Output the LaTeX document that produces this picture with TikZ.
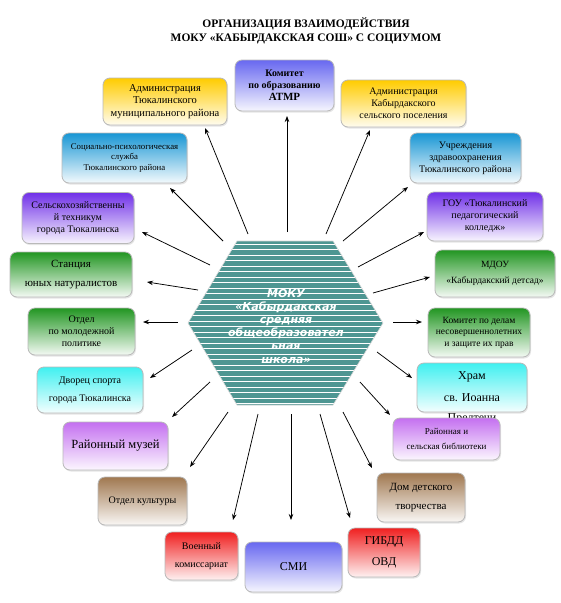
\documentclass[tikz,border=0pt]{standalone}
\usepackage{fontspec}
\setmainfont{Liberation Serif}
\newfontfamily\hexfont{DejaVu Sans}
\usetikzlibrary{arrows.meta,shadows}

\definecolor{hexteal}{RGB}{78,150,146}
\definecolor{cyel}{RGB}{255,204,0}
\definecolor{clav}{RGB}{104,104,240}
\definecolor{cblu}{RGB}{24,150,212}
\definecolor{cpur}{RGB}{112,48,232}
\definecolor{cgrn}{RGB}{34,150,34}
\definecolor{ccya}{RGB}{64,240,240}
\definecolor{cvio}{RGB}{196,112,240}
\definecolor{cbrn}{RGB}{160,120,80}
\definecolor{cred}{RGB}{240,32,32}

\newcommand\fs[1]{\fontsize{#1}{1.2\dimexpr#1pt\relax}\selectfont}

\begin{document}
\begin{tikzpicture}[
        x=1pt, y=-1pt,
        box/.style={draw=gray!55, line width=0.8pt, rounded corners=7pt,
            align=center, inner sep=1pt,
            drop shadow={opacity=0.2, shadow xshift=1pt, shadow yshift=-1.5pt}},
        yel/.style={box, top color=cyel, bottom color=cyel!6},
        lav/.style={box, top color=clav, bottom color=clav!6},
        blu/.style={box, top color=cblu, bottom color=cblu!5},
        pur/.style={box, top color=cpur, bottom color=cpur!5},
        grn/.style={box, top color=cgrn, bottom color=cgrn!5},
        cya/.style={box, top color=ccya, bottom color=ccya!6},
        vio/.style={box, top color=cvio, bottom color=cvio!6},
        brn/.style={box, top color=cbrn, bottom color=cbrn!6},
        rdd/.style={box, top color=cred, bottom color=cred!6},
        arr/.style={line width=0.75pt, -{Stealth[length=6pt,width=4.5pt]}}
    ]
    \fill[white] (0,0) rectangle (561,603);
    \useasboundingbox (0,0) rectangle (561,603);

    \node[font=\bfseries\fs{11.5}, align=center] (title) at (306,31)
        {ОРГАНИЗАЦИЯ ВЗАИМОДЕЙСТВИЯ\\МОКУ «КАБЫРДАКСКАЯ СОШ» С СОЦИУМОМ};

    % hexagon
    \coordinate (h1) at (237,241);
    \coordinate (h2) at (333,241);
    \coordinate (h3) at (383,323);
    \coordinate (h4) at (333,405);
    \coordinate (h5) at (237,405);
    \coordinate (h6) at (188,323);
    \fill[hexteal] (h1) -- (h2) -- (h3) -- (h4) -- (h5) -- (h6) -- cycle;
    \begin{scope}
        \clip (h1) -- (h2) -- (h3) -- (h4) -- (h5) -- (h6) -- cycle;
        \foreach \yy in {244,249.5,...,405}
            \draw[white, line width=0.8pt] (180,\yy) -- (390,\yy);
    \end{scope}
    \draw[gray!30, line width=0.6pt] (h1) -- (h2) -- (h3) -- (h4) -- (h5) -- (h6) -- cycle;
    \node[font=\hexfont\bfseries\itshape\fs{11}, text=white, align=center] (moku) at (286,326)
        {МОКУ\\«Кабырдакская\\средняя\\общеобразовател\\ьная\\школа»};

    % partners
    \node[lav, minimum width=99, minimum height=51, font=\bfseries\fs{10}] (kom) at (284.5,85.5)
        {Комитет\\по образованию\\{\fs{11}АТМР}};
    \node[yel, minimum width=124, minimum height=47, font=\fs{10.5}] (adml) at (165,101.5)
        {Администрация\\Тюкалинского\\муниципального района};
    \node[yel, minimum width=125, minimum height=47, font=\fs{10}] (admr) at (403.5,103.5)
        {Администрация\\Кабырдакского\\сельского поселения};
    \node[blu, minimum width=125, minimum height=50, font=\fs{8.8}] (socp) at (124.5,158)
        {Социально-психологическая\\служба\\Тюкалинского района};
    \node[blu, minimum width=111, minimum height=50, font=\fs{10}] (zdrav) at (465.5,158)
        {Учреждения\\здравоохранения\\Тюкалинского района};
    \node[pur, minimum width=112, minimum height=51, font=\fs{10}] (selh) at (78,218)
        {Сельскохозяйственны\\й техникум\\города Тюкалинска};
    \node[pur, minimum width=116, minimum height=49, font=\fs{10}] (gou) at (485,216.5)
        {ГОУ «Тюкалинский\\педагогический\\колледж»};
    \node[grn, minimum width=122, minimum height=45, font=\fs{11}] (stan) at (71,274.5)
        {Станция\\[5pt]юных натуралистов};
    \node[grn, minimum width=120, minimum height=47, font=\fs{9.5}] (mdou) at (495,273.5)
        {МДОУ\\[4pt]«Кабырдакский детсад»};
    \node[grn, minimum width=107, minimum height=47, font=\fs{10}] (molod) at (81.5,331.5)
        {Отдел\\по молодежной\\политике};
    \node[grn, minimum width=102, minimum height=49, font=\fs{9.5}] (komd) at (479,332.5)
        {Комитет по делам\\несовершеннолетних\\и защите их прав};
    \node[cya, minimum width=106, minimum height=46, font=\fs{10}] (dvor) at (90,390)
        {Дворец спорта\\[6pt]города Тюкалинска};
    \node[cya, minimum width=110, minimum height=49] (hram) at (472,387.5) {};
    \node[font=\fs{12}, align=center, anchor=north] (hramtxt) at (472,368)
        {Храм\\[8pt]св. Иоанна\\[5pt]Предтечи};
    \node[vio, minimum width=107, minimum height=42, font=\fs{9}] (bibl) at (446.5,439)
        {Районная и\\[5pt]сельская библиотеки};
    \node[vio, minimum width=105, minimum height=48, font=\fs{12.5}] (muz) at (115.5,446)
        {Районный музей};
    \node[brn, minimum width=89, minimum height=48, font=\fs{10}] (kult) at (142.5,501)
        {Отдел культуры};
    \node[brn, minimum width=88, minimum height=49, font=\fs{11}] (dom) at (421,497.5)
        {Дом детского\\[6pt]творчества};
    \node[rdd, minimum width=73, minimum height=48, font=\fs{10}] (voen) at (201.5,556)
        {Военный\\[6pt]комиссариат};
    \node[lav, minimum width=97, minimum height=50, font=\fs{12}] (smi) at (293.5,567)
        {СМИ};
    \node[rdd, minimum width=72, minimum height=49, font=\fs{12}] (gibdd) at (384,552.5)
        {ГИБДД\\[6pt]ОВД};

    % arrows
    \foreach \n/\sx/\sy/\tx/\ty in {
            kom/287/232/287/116, adml/248/234/205/128, admr/326/234/370/130,
            socp/223/241/170/188, zdrav/343/241/408/187, selh/210/265/142/232,
            gou/358/267/424/232, stan/198/290/147/282, mdou/373/293/430/277,
            molod/178/322/143/322, komd/393/322/422/322, dvor/192/350/150/378,
            hram/377/352/412/378, bibl/360/382/390/415, muz/210/382/172/417,
            kult/228/412/190/467, dom/343/412/372/468, voen/258/414/233/520,
            smi/291/414/291/520, gibdd/320/414/350/518}{
        \coordinate (s-\n) at (\sx,\sy);
        \coordinate (t-\n) at (\tx,\ty);
        \draw[arr] (s-\n) -- (t-\n);
    }
\end{tikzpicture}
\end{document}
